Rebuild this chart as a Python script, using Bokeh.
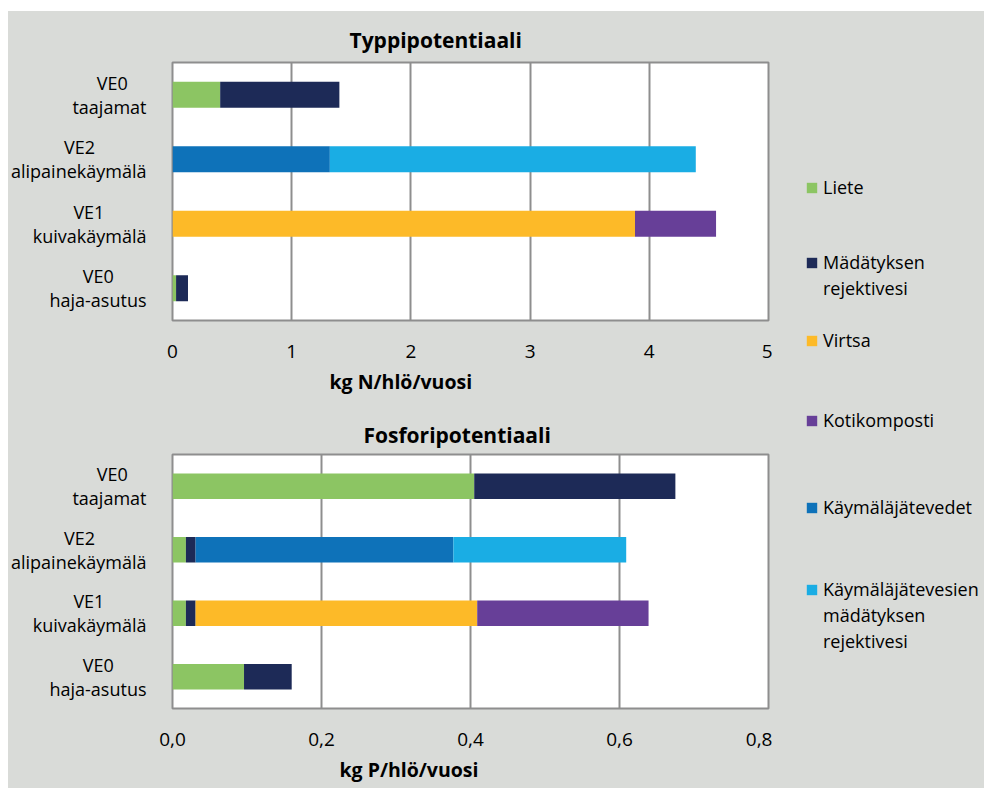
from bokeh.plotting import figure
from bokeh.models import (Legend, LegendItem, Title, FixedTicker, FactorRange,
                          Range1d, ColumnDataSource)
from bokeh.layouts import column, row
from bokeh.embed import file_html
from bokeh.resources import INLINE

# ---------------- data ----------------
category_line1 = ["VE0", "VE2", "VE1", "VE0"]
category_line2 = ["taajamat", "alipainekäymälä", "kuivakäymälä", "haja-asutus"]

series_keys = ["liete", "madatys", "virtsa", "kotikomposti", "kjv", "kjv_rej"]
series_labels = ["Liete", "Mädätyksen\nrejektivesi", "Virtsa", "Kotikomposti",
                 "Käymäläjätevedet", "Käymäläjätevesien\nmädätyksen\nrejektivesi"]
series_colors = ["#8cc563", "#1d2a57", "#fdba28", "#673f98", "#0e72b9", "#1aade4"]

# Typpipotentiaali, kg N/hlö/vuosi (order as categories)
n_liete = [0.40, 0.0, 0.0, 0.03]
n_madatys = [1.00, 0.0, 0.0, 0.10]
n_virtsa = [0.0, 0.0, 3.88, 0.0]
n_kotikomposti = [0.0, 0.0, 0.68, 0.0]
n_kjv = [0.0, 1.32, 0.0, 0.0]
n_kjv_rej = [0.0, 3.07, 0.0, 0.0]

# Fosforipotentiaali, kg P/hlö/vuosi
p_liete = [0.405, 0.018, 0.018, 0.096]
p_madatys = [0.270, 0.013, 0.013, 0.064]
p_virtsa = [0.0, 0.0, 0.378, 0.0]
p_kotikomposti = [0.0, 0.0, 0.230, 0.0]
p_kjv = [0.0, 0.346, 0.0, 0.0]
p_kjv_rej = [0.0, 0.232, 0.0, 0.0]

n_ticks = [0, 1, 2, 3, 4, 5]
n_tick_labels = ["0", "1", "2", "3", "4", "5"]
p_ticks = [0.0, 0.2, 0.4, 0.6, 0.8]
p_tick_labels = ["0,0", "0,2", "0,4", "0,6", "0,8"]

# ---------------- style ----------------
BG = "#d9dbd8"
GRID = "#8e8e8e"
FONT = "Open Sans"
NBSP = "\u00a0"
# trailing non-breaking spaces so that the short first line sits centred over the second
first_line_pad = [4, 11, 9, 7]

categories = [a + NBSP * n + "\n" + b
              for a, b, n in zip(category_line1, category_line2, first_line_pad)]


def make_chart(title, xlabel, values, xmax, ticks, tick_labels, width, height,
               b_left, b_right, b_top, b_bottom, title_offset, title_standoff,
               xlabel_offset):
    data = {"cat": categories}
    for k, v in zip(series_keys, values):
        data[k] = v
    src = ColumnDataSource(data)
    p = figure(width=width, height=height, output_backend="svg", toolbar_location=None,
               y_range=FactorRange(factors=list(reversed(categories))),
               x_range=Range1d(0, xmax),
               min_border_left=b_left, min_border_right=b_right,
               min_border_top=b_top, min_border_bottom=b_bottom)
    p.background_fill_color = "white"
    p.border_fill_color = BG
    p.outline_line_color = GRID
    p.outline_line_width = 2

    p.hbar_stack(series_keys, y="cat", height=0.4, color=series_colors,
                 line_color=None, source=src)

    p.ygrid.visible = False
    p.xgrid.grid_line_color = GRID
    p.xgrid.grid_line_width = 2
    p.xgrid.ticker = FixedTicker(ticks=ticks)

    xa = p.xaxis[0]
    xa.ticker = FixedTicker(ticks=ticks)
    xa.major_label_overrides = {t: l for t, l in zip(ticks, tick_labels)}
    xa.axis_line_color = None
    xa.major_tick_line_color = None
    xa.minor_tick_line_color = None
    xa.major_label_text_font = FONT
    xa.major_label_text_font_size = "19px"
    xa.major_label_text_color = "black"
    xa.major_label_standoff = 18

    ya = p.yaxis[0]
    ya.axis_line_color = None
    ya.major_tick_line_color = None
    ya.minor_tick_line_color = None
    ya.major_label_text_font = FONT
    ya.major_label_text_font_size = "18px"
    ya.major_label_text_color = "black"
    ya.major_label_text_line_height = 1.0
    ya.major_label_standoff = 20

    p.title.text = title
    p.title.align = "left"
    p.title.offset = title_offset
    p.title.standoff = title_standoff
    p.title.text_font = FONT
    p.title.text_font_size = "21px"
    p.title.text_font_style = "bold"
    p.title.text_color = "black"

    p.add_layout(Title(text=xlabel, align="left", offset=xlabel_offset,
                       text_font=FONT, text_font_size="19.5px",
                       text_font_style="bold", text_color="black"), "below")
    return p


top = make_chart("Typpipotentiaali", "kg N/hlö/vuosi",
                 [n_liete, n_madatys, n_virtsa, n_kotikomposti, n_kjv, n_kjv_rej],
                 5, n_ticks, n_tick_labels, 764, 394,
                 162, 2, 51, 85, 177, 18, 157)

bottom = make_chart("Fosforipotentiaali", "kg P/hlö/vuosi",
                    [p_liete, p_madatys, p_virtsa, p_kotikomposti, p_kjv, p_kjv_rej],
                    0.8, p_ticks, p_tick_labels, 764, 383,
                    164, 4, 49, 80, 191, 12, 167)

# ---------------- legend column ----------------
lg = figure(width=212, height=777, output_backend="svg", toolbar_location=None,
            x_axis_location=None, y_axis_location=None,
            x_range=Range1d(0, 1), y_range=Range1d(0, 1),
            min_border_left=0, min_border_right=0, min_border_top=0, min_border_bottom=0)
lg.background_fill_color = BG
lg.border_fill_color = BG
lg.outline_line_color = None
lg.xgrid.visible = False
lg.ygrid.visible = False

legend_locs = [(33, 588), (33, 487), (33, 435), (33, 355), (33, 268), (33, 134)]
for label, color, loc in zip(series_labels, series_colors, legend_locs):
    # zero-size swatch carriers (only their colour is used by the legend)
    r = lg.hbar(y=[0], left=[0], right=[0], height=0, color=color, line_color=None)
    lines = label.split("\n")
    items = [LegendItem(label=lines[0], renderers=[r])]
    for extra in lines[1:]:
        blank = lg.hbar(y=[0], left=[0], right=[0], height=0, fill_alpha=0, line_color=None)
        items.append(LegendItem(label=extra, renderers=[blank]))
    leg = Legend(items=items,
                 location=loc, orientation="vertical",
                 border_line_color=None, background_fill_alpha=0,
                 padding=0, margin=0, spacing=0,
                 glyph_width=13, glyph_height=13, label_standoff=5,
                 label_text_font=FONT, label_text_font_size="18px",
                 label_text_line_height=1.45, label_height=26, label_text_color="black")
    lg.add_layout(leg)

layout = row(column(top, bottom, spacing=0, styles={"background-color": BG}), lg,
             spacing=0, margin=(11, 0, 0, 8), styles={"background-color": BG})

open("out.html", "w").write(file_html(layout, INLINE))
